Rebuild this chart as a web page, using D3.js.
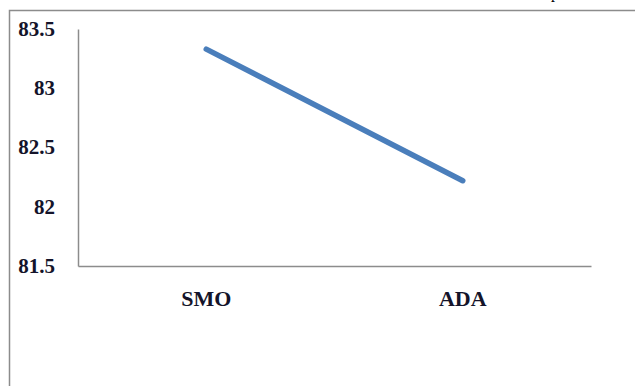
<!DOCTYPE html>
<html>
<head>
<meta charset="utf-8">
<script src="https://cdn.jsdelivr.net/npm/d3@7"></script>
<style>
  html, body { margin: 0; padding: 0; background: #fff; }
  svg { display: block; }
  svg text { font-family: "Liberation Serif", "DejaVu Serif", serif; }
</style>
</head>
<body>
<svg id="chart" width="635" height="386"></svg>
<script>
// Accuracy of the two classifiers
const categories = ["SMO", "ADA"];
const accuracy = [83.33, 82.22];
const yTicks = [81.5, 82, 82.5, 83, 83.5];

const svg = d3.select("#chart");
const W = 635, H = 386;

// frame around the chart area
svg.append("rect")
  .attr("x", 9.5).attr("y", 10.5)
  .attr("width", W).attr("height", H)
  .attr("fill", "none").attr("stroke", "#8c8c8c").attr("stroke-width", 1.5);

// descender of the caption text running above the frame
svg.append("text")
  .attr("x", 551).attr("y", -2)
  .style("font-size", "16px")
  .attr("fill", "#000")
  .text("p");

const plot = { left: 78, right: 591, top: 29, bottom: 266 };

const x = d3.scaleBand().domain(categories).range([plot.left, plot.right]);
const y = d3.scaleLinear().domain([81.5, 83.5]).range([plot.bottom, plot.top]);

// y axis: line plus labels, no tick marks
const yAxis = d3.axisLeft(y).tickValues(yTicks).tickSize(0).tickPadding(23)
  .tickFormat(d3.format("~g"));
const gy = svg.append("g").attr("transform", `translate(${plot.left},0)`).call(yAxis);
gy.attr("font-family", null);
gy.select(".domain").attr("stroke", "#8c8c8c").attr("stroke-width", 1.5);
gy.selectAll("text")
  .style("font-weight", "bold").style("font-size", "21px")
  .attr("fill", "#14142a").attr("dy", "0.3em");

// x axis
const xAxis = d3.axisBottom(x).tickSize(0).tickPadding(24);
const gx = svg.append("g").attr("transform", `translate(0,${plot.bottom})`).call(xAxis);
gx.attr("font-family", null);
gx.select(".domain").attr("stroke", "#8c8c8c").attr("stroke-width", 1.5);
gx.selectAll("text")
  .style("font-weight", "bold").style("font-size", "22px")
  .attr("fill", "#14142a");

// accuracy line
const line = d3.line()
  .x((d, i) => x(categories[i]) + x.bandwidth() / 2)
  .y(d => y(d));

svg.append("path")
  .datum(accuracy)
  .attr("d", line)
  .attr("fill", "none")
  .attr("stroke", "#4a7ebb")
  .attr("stroke-width", 5.5)
  .attr("stroke-linecap", "round");
</script>
</body>
</html>
